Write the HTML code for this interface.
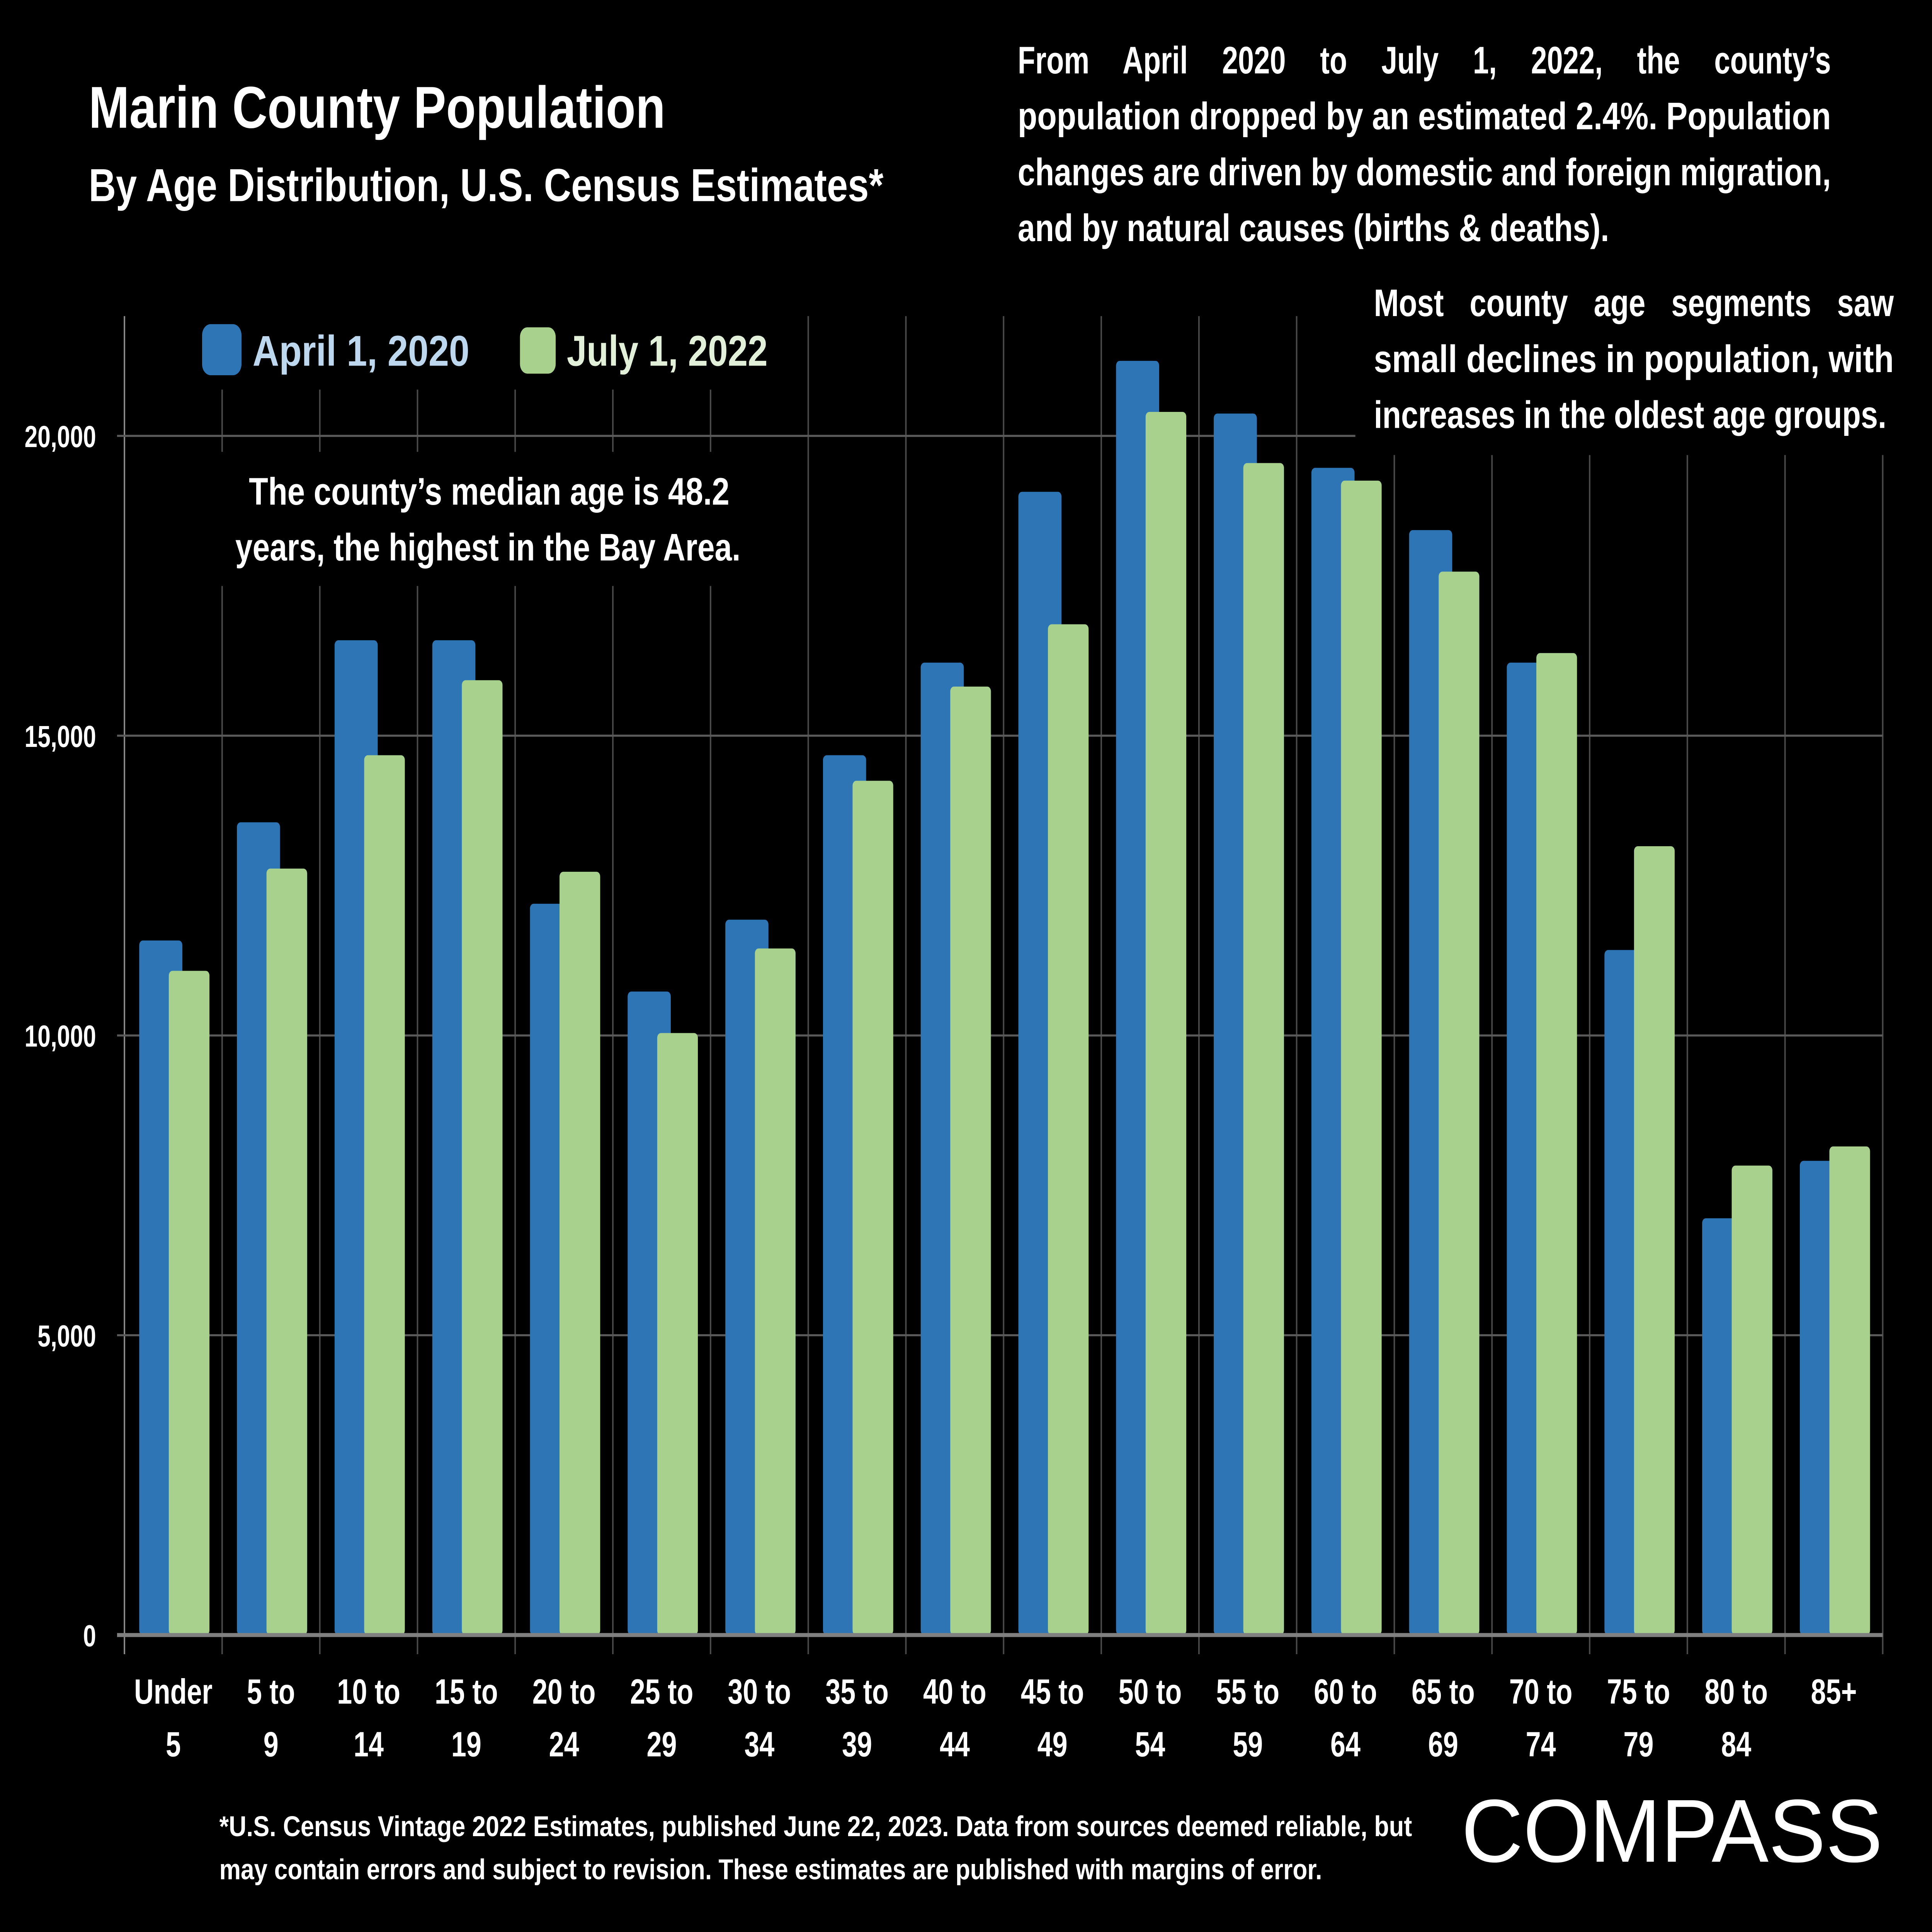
<!DOCTYPE html>
<html><head><meta charset="utf-8"><style>
html,body{margin:0;padding:0;background:#000;width:100vw;height:100vh;overflow:hidden;}
svg{display:block;position:absolute;left:0;top:0;width:100vw;height:100vh;}
text{font-family:"Liberation Sans",sans-serif;font-weight:bold;fill:#fff;}
</style></head><body>
<svg id="chart" viewBox="0 0 1568 1210" preserveAspectRatio="none" xmlns="http://www.w3.org/2000/svg">
<rect x="0" y="0" width="1568" height="1210" fill="#000"/>
<g id="grid"></g>
<g id="bars"></g>
<g id="axes"></g>

<rect x="160" y="196" width="480" height="48" fill="#000"/>
<g>
<rect x="164" y="203" width="32" height="32" rx="7" fill="#2E75B6"/>
<text x="205" y="229" font-size="27" style="fill:#BDD7EE" textLength="176" lengthAdjust="spacingAndGlyphs">April 1, 2020</text>
<rect x="422" y="205" width="29" height="29" rx="6" fill="#A9D18E"/>
<text x="460" y="229" font-size="27" style="fill:#E2F0D9" textLength="163" lengthAdjust="spacingAndGlyphs">July 1, 2022</text>
</g>

<rect x="150" y="283" width="500" height="84" fill="#000"/>
<text x="397" y="316" font-size="24" text-anchor="middle" textLength="390" lengthAdjust="spacingAndGlyphs">The county’s median age is 48.2</text>
<text x="396" y="351" font-size="24" text-anchor="middle" textLength="410" lengthAdjust="spacingAndGlyphs">years, the highest in the Bay Area.</text>

<text x="72" y="80" font-size="37" textLength="468" lengthAdjust="spacingAndGlyphs">Marin County Population</text>
<text x="72" y="126" font-size="29" textLength="645" lengthAdjust="spacingAndGlyphs">By Age Distribution, U.S. Census Estimates*</text>

<g>
<text x="826" y="46" font-size="24" word-spacing="22" textLength="660" lengthAdjust="spacingAndGlyphs">From April 2020 to July 1, 2022, the county’s</text>
<text x="826" y="81" font-size="24" textLength="660" lengthAdjust="spacingAndGlyphs">population dropped by an estimated 2.4%. Population</text>
<text x="826" y="116" font-size="24" textLength="660" lengthAdjust="spacingAndGlyphs">changes are driven by domestic and foreign migration,</text>
<text x="826" y="151" font-size="24" textLength="480" lengthAdjust="spacingAndGlyphs">and by natural causes (births &amp; deaths).</text>
</g>
<rect x="1100" y="170" width="450" height="115" fill="#000"/>
<g>
<text x="1115" y="198" font-size="24" word-spacing="14" textLength="422" lengthAdjust="spacingAndGlyphs">Most county age segments saw</text>
<text x="1115" y="233" font-size="24" textLength="422" lengthAdjust="spacingAndGlyphs">small declines in population, with</text>
<text x="1115" y="268" font-size="24" textLength="416" lengthAdjust="spacingAndGlyphs">increases in the oldest age groups.</text>
</g>

<text x="178" y="1150" font-size="18" textLength="968" lengthAdjust="spacingAndGlyphs">*U.S. Census Vintage 2022 Estimates, published June 22, 2023. Data from sources deemed reliable, but</text>
<text x="178" y="1177" font-size="18" textLength="895" lengthAdjust="spacingAndGlyphs">may contain errors and subject to revision. These estimates are published with margins of error.</text>
<text x="1186" y="1166" font-size="56" style="font-weight:normal" textLength="342" lengthAdjust="spacingAndGlyphs">COMPASS</text>
</svg>
<script>
const categories = ["Under|5","5 to|9","10 to|14","15 to|19","20 to|24","25 to|29","30 to|34","35 to|39","40 to|44","45 to|49","50 to|54","55 to|59","60 to|64","65 to|69","70 to|74","75 to|79","80 to|84","85+|"];
const values2020 = [11584,13555,16591,16591,12197,10732,11931,14674,16218,19068,21252,20373,19467,18429,16218,11425,6951,7909];
const values2022 = [11078,12783,14674,15925,12730,10040,11451,14248,15819,16858,20400,19547,19254,17736,16378,13156,7830,8149];
const yTicks = [0,5000,10000,15000,20000];
const yTickLabels = ["0","5,000","10,000","15,000","20,000"];

const NS = "http://www.w3.org/2000/svg";
const x0 = 101, x1 = 1528, yBase = 1024, yTop = 198;
const groupW = (x1 - x0) / categories.length;
function yScale(v){ return yBase - v / 20000 * 751; }
function xGroup(i){ return x0 + i * groupW; }
function mk(tag, attrs, parent){ const e = document.createElementNS(NS, tag); for (const k in attrs) e.setAttribute(k, attrs[k]); parent.appendChild(e); return e; }
const grid = document.getElementById('grid'), bars = document.getElementById('bars'), axes = document.getElementById('axes');

for (let i = 0; i <= categories.length; i++) {
  const l = mk('line', {x1: xGroup(i), x2: xGroup(i), y1: yTop, y2: yBase + 12, stroke: i === 0 ? '#8a8a8a' : '#4a4a4a', 'stroke-width': 1.2}, grid);
  
  
}
yTicks.forEach((t, i) => {
  if (t === 0) return;
  const l = mk('line', {x1: x0 - 6, x2: x1, y1: yScale(t), y2: yScale(t), stroke: '#5a5a5a', 'stroke-width': 1.3}, grid);
  
  
  const tx = mk('text', {x: 78, y: yScale(t) + 7, 'font-size': 19, 'text-anchor': 'end'}, axes);
  tx.textContent = yTickLabels[i];
  
  
});
const z = mk('text', {x: 78, y: yBase + 7, 'font-size': 19, 'text-anchor': 'end'}, axes);
z.textContent = yTickLabels[0];



categories.forEach((c, i) => {
  const gx = xGroup(i);
  const b = mk('rect', {x: gx + 12, y: yScale(values2020[i]), width: 35, height: yBase - yScale(values2020[i]), rx: 3, fill: '#2E75B6'}, bars);
  
  
  const g = mk('rect', {x: gx + 36, y: yScale(values2022[i]), width: 33, height: yBase - yScale(values2022[i]), rx: 3, fill: '#A9D18E'}, bars);
  
  
  const parts = c.split('|');
  parts.forEach((p, j) => {
    if (!p) return;
    const t = mk('text', {x: gx + groupW / 2, y: 1067 + j * 33, 'font-size': 22, 'text-anchor': 'middle'}, axes);
    t.textContent = p;
    
    
  });
});
const ax = mk('line', {x1: x0 - 6, x2: x1, y1: yBase, y2: yBase, stroke: '#808080', 'stroke-width': 2.5}, axes);


</script>
</body></html>
